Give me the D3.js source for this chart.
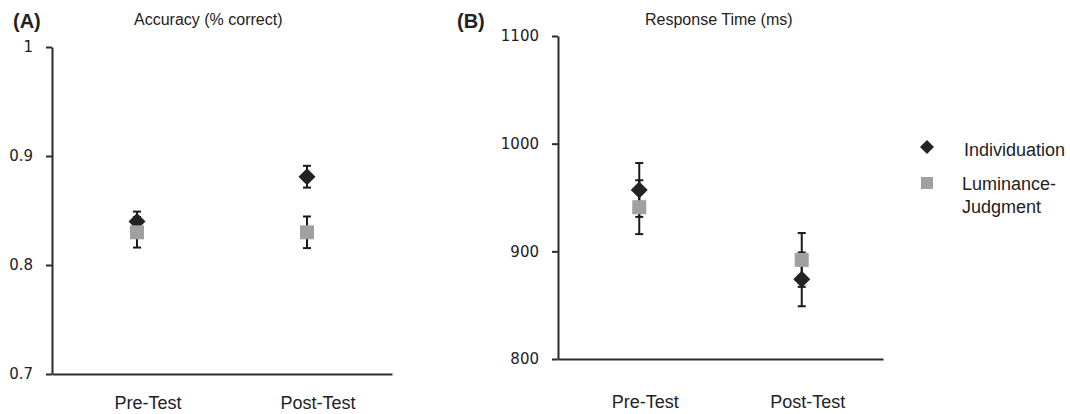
<!DOCTYPE html>
<html>
<head>
<meta charset="utf-8">
<script src="https://cdn.jsdelivr.net/npm/d3@7"></script>
<style>
  body { margin: 0; background: #fff; }
  svg { display: block; font-family: "Liberation Sans", Arial, sans-serif; }
</style>
</head>
<body>
<div id="chart"></div>
<script>
// categories and series
var phases = ["Pre-Test", "Post-Test"];
var seriesNames = ["Individuation", "Luminance-Judgment"];

// panel A: accuracy (proportion correct)
var accIndiv = [0.840, 0.881];
var accIndivErr = [0.009, 0.010];
var accLum = [0.830, 0.830];
var accLumErr = [0.014, 0.0145];
var accTicks = [0.7, 0.8, 0.9, 1];

// panel B: response time (ms)
var rtIndiv = [957, 874];
var rtIndivErr = [25, 25];
var rtLum = [941, 892];
var rtLumErr = [25, 25];
var rtTicks = [800, 900, 1000, 1100];

var W = 1070, H = 414;
var svg = d3.select("#chart").append("svg")
    .attr("width", W)
    .attr("height", H);

/*
  drawPanel
  draws one dot plot with error bars; box is the plot area in pixels
*/
function drawPanel(box, domain, ticks, fmt, indiv, indivErr, lum, lumErr) {
    var x = d3.scaleBand()
	.domain(phases)
	.range([box.left, box.right])
	.padding(0);
    var y = d3.scaleLinear()
	.domain(domain)
	.range([box.bottom, box.top]);

    var g = svg.append("g");

    // y axis
    var yAxis = g.append("g")
	.attr("transform", "translate(" + box.left + ",0)")
	.call(d3.axisLeft(y)
	      .tickValues(ticks)
	      .tickFormat(fmt)
	      .tickSize(6)
	      .tickSizeOuter(0));
    yAxis.select(".domain").attr("stroke", "#2b2b2b").attr("stroke-width", 2);
    yAxis.selectAll(".tick line").attr("stroke", "#2b2b2b").attr("stroke-width", 2);
    yAxis.selectAll(".tick text")
	.attr("x", -19)
	.attr("fill", "#222")
	.style("font-size", "15px")
	.style("font-family", "DejaVu Sans, Verdana, sans-serif");

    // x axis, no ticks
    var xAxis = g.append("g")
	.attr("transform", "translate(0," + box.bottom + ")")
	.call(d3.axisBottom(x).tickSize(0).tickSizeOuter(0));
    xAxis.select(".domain").attr("stroke", "#2b2b2b").attr("stroke-width", 2);
    xAxis.selectAll(".tick text")
	.attr("y", box.labelY - box.bottom)
	.attr("dy", 0)
	.attr("dx", box.labelDx)
	.attr("fill", "#222")
	.style("font-size", "18px")
	.style("font-family", "Liberation Sans, Arial, sans-serif");

    var cx = function(i) { return x(phases[i]) + x.bandwidth() / 2; };

    var errs = [];
    for (var i = 0; i < phases.length; i++) {
	errs.push([cx(i), indiv[i], indivErr[i]]);
	errs.push([cx(i), lum[i], lumErr[i]]);
    }

    // error bars
    var eb = g.selectAll(".err").data(errs).enter().append("g").attr("class", "err");
    eb.append("line")
	.attr("x1", function(d) { return d[0]; })
	.attr("x2", function(d) { return d[0]; })
	.attr("y1", function(d) { return y(d[1] - d[2]); })
	.attr("y2", function(d) { return y(d[1] + d[2]); });
    eb.append("line")
	.attr("x1", function(d) { return d[0] - 4; })
	.attr("x2", function(d) { return d[0] + 4; })
	.attr("y1", function(d) { return y(d[1] + d[2]); })
	.attr("y2", function(d) { return y(d[1] + d[2]); });
    eb.append("line")
	.attr("x1", function(d) { return d[0] - 4; })
	.attr("x2", function(d) { return d[0] + 4; })
	.attr("y1", function(d) { return y(d[1] - d[2]); })
	.attr("y2", function(d) { return y(d[1] - d[2]); });
    eb.selectAll("line").attr("stroke", "#1a1a1a").attr("stroke-width", 2);

    // diamonds
    g.selectAll(".indiv").data(indiv).enter().append("path")
	.attr("class", "indiv")
	.attr("d", "M0,-8.5L8.5,0L0,8.5L-8.5,0Z")
	.attr("transform", function(d, i) { return "translate(" + cx(i) + "," + y(d) + ")"; })
	.attr("fill", "#222");

    // squares
    g.selectAll(".lum").data(lum).enter().append("rect")
	.attr("class", "lum")
	.attr("x", function(d, i) { return cx(i) - 7; })
	.attr("y", function(d) { return y(d) - 7; })
	.attr("width", 14)
	.attr("height", 14)
	.attr("fill", "#a0a0a0");
}

drawPanel({ left: 52, right: 392, top: 47, bottom: 374, labelDx: 11, labelY: 409 },
	  [0.7, 1], accTicks, function(d) { return d === 1 ? "1" : d3.format(".1f")(d); },
	  accIndiv, accIndivErr, accLum, accLumErr);

drawPanel({ left: 558, right: 883, top: 36, bottom: 359, labelDx: 6, labelY: 408 },
	  [800, 1100], rtTicks, d3.format("d"),
	  rtIndiv, rtIndivErr, rtLum, rtLumErr);

// panel letters and titles
var labels = [
    ["(A)", 13, 28, "bold", "20px"],
    ["Accuracy (% correct)", 134, 25, "normal", "16px"],
    ["(B)", 457, 28, "bold", "20px"],
    ["Response Time (ms)", 645, 25, "normal", "16px"]
];
svg.selectAll(".lbl").data(labels).enter().append("text")
    .attr("class", "lbl")
    .attr("x", function(d) { return d[1]; })
    .attr("y", function(d) { return d[2]; })
    .attr("font-weight", function(d) { return d[3]; })
    .style("font-size", function(d) { return d[4]; })
    .attr("fill", "#222")
    .text(function(d) { return d[0]; });

// legend
var leg = svg.append("g");
leg.append("path")
    .attr("d", "M0,-7L7,0L0,7L-7,0Z")
    .attr("transform", "translate(927,147)")
    .attr("fill", "#222");
leg.append("text")
    .attr("x", 964).attr("y", 156)
    .style("font-size", "18px").attr("fill", "#222")
    .text(seriesNames[0]);
leg.append("rect")
    .attr("x", 921).attr("y", 177).attr("width", 12).attr("height", 12)
    .attr("fill", "#a0a0a0");
var lt = leg.append("text")
    .attr("x", 962).attr("y", 190)
    .style("font-size", "18px").attr("fill", "#222");
lt.append("tspan").attr("x", 962).text("Luminance-");
lt.append("tspan").attr("x", 962).attr("dy", 23).text("Judgment");
</script>
</body>
</html>
